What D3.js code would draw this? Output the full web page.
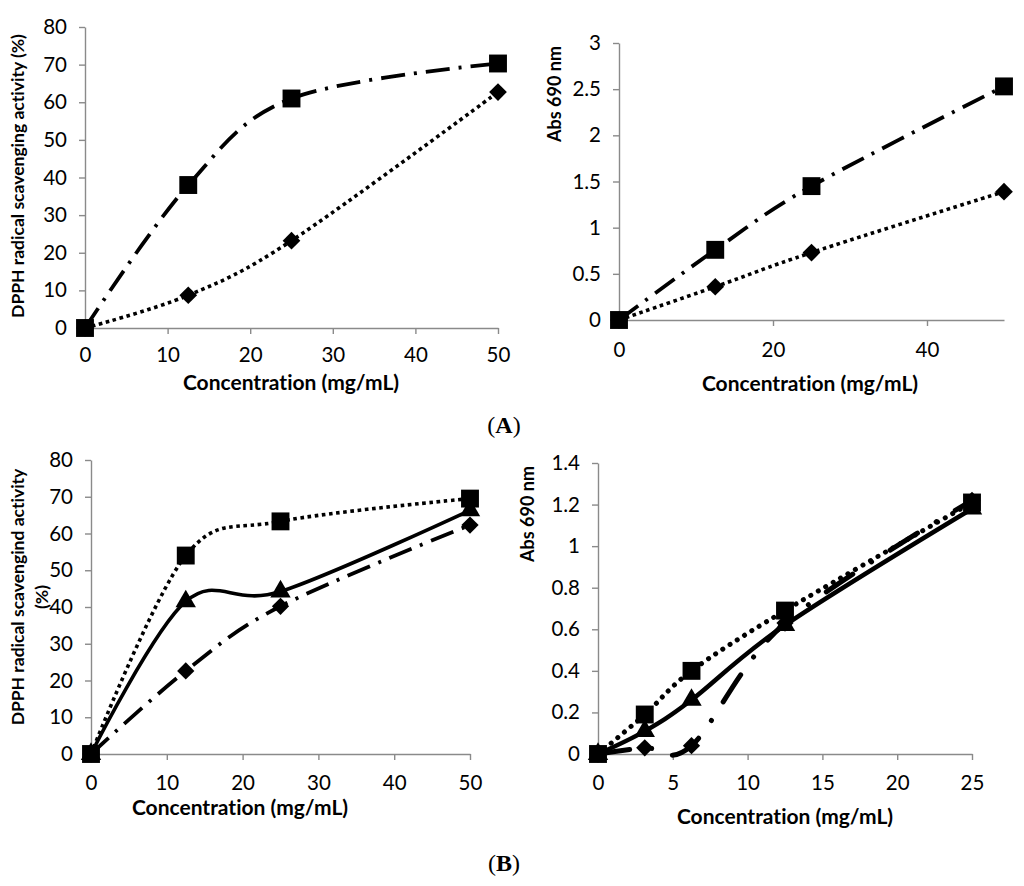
<!DOCTYPE html>
<html>
<head>
<meta charset="utf-8">
<script src="https://cdn.jsdelivr.net/npm/d3@7"></script>
<style>
  body { margin: 0; background: #fff; }
  text { font-variant-ligatures: none; font-feature-settings: "liga" 0, "dlig" 0; }
  .tick-label { font-family: Lato, "Open Sans", sans-serif; font-size: 20.5px; fill: #000; }
  .axis-title { font-family: Lato, "Open Sans", sans-serif; font-weight: bold; fill: #000; }
  .panel-label { font-family: "Liberation Serif", "Times New Roman", serif; font-size: 24px; fill: #000; }
</style>
</head>
<body>
<svg id="fig" width="1024" height="886"></svg>
<script>
// data

// (A) left: DPPH
const concA = [0, 12.5, 25, 50];
const dpphASquare = [0, 38, 61, 70.3];
const dpphADiamond = [0, 8.7, 23.2, 62.7];

// (A) right: Abs 690 nm
const absASquare = [0, 0.76, 1.45, 2.53];
const absADiamond = [0, 0.36, 0.73, 1.39];

// (B) left: DPPH
const concB1 = [0, 12.5, 25, 50];
const dpphBSquare = [0, 54, 63.3, 69.5];
const dpphBTriangle = [0, 41.5, 44.2, 66.3];
const dpphBDiamond = [0, 22.6, 40.2, 62.3];

// (B) right: Abs 690 nm
const concB2 = [0, 3.125, 6.25, 12.5, 25];
const absBSquare = [0, 0.19, 0.40, 0.69, 1.21];
const absBTriangle = [0, 0.11, 0.26, 0.62, 1.18];
const absBDiamond = [0, 0.03, 0.04, 0.63, 1.22];

// tick labels
const ticksDpph = [0, 10, 20, 30, 40, 50, 60, 70, 80];
const ticksConc50 = [0, 10, 20, 30, 40, 50];
const ticksConc50wide = [0, 20, 40];
const ticksAbs3 = [0, 0.5, 1, 1.5, 2, 2.5, 3];
const ticksConc25 = [0, 5, 10, 15, 20, 25];
const ticksAbs14 = [0, 0.2, 0.4, 0.6, 0.8, 1, 1.2, 1.4];

const xTitle = 'Concentration (mg/mL)';

// line styles
const styles = {
    dashdot: { width: 3.8, dash: '24,9,3,9', cap: 'butt' },
    dotted: { width: 3.6, dash: '3.6,3.6', cap: 'butt' },
    solid: { width: 3.6, dash: null, cap: 'butt' },
    bigDotted: { width: 5, dash: '0.1,8.5', cap: 'round' },
    bigDashdot: { width: 5, dash: '32,22,0.1,22', cap: 'round' },
    bigSolid: { width: 4.5, dash: null, cap: 'butt' }
};

const axisColor = '#8a8a8a';
const svg = d3.select('#fig');

function drawPanel(p) {
    let x = d3.scaleLinear().domain(p.xDomain).range([p.left, p.right]);
    let y = d3.scaleLinear().domain(p.yDomain).range([p.bottom, p.top]);
    let g = svg.append('g');

    // axes
    g.append('g')
        .attr('transform', `translate(0, ${p.bottom})`)
        .call(d3.axisBottom(x).tickValues(p.xTicks).tickSize(6).tickSizeOuter(0).tickFormat(d => d))
        .call(a => a.selectAll('line, path').attr('stroke', axisColor).attr('stroke-width', 1.4))
        .call(a => a.selectAll('text').attr('class', 'tick-label').attr('y', p.xLabelDy).attr('dy', '0.35em'));

    g.append('g')
        .attr('transform', `translate(${p.left}, 0)`)
        .call(d3.axisLeft(y).tickValues(p.yTicks).tickSize(6).tickSizeOuter(0).tickFormat(d => d))
        .call(a => a.selectAll('line, path').attr('stroke', axisColor).attr('stroke-width', 1.4))
        .call(a => a.selectAll('text').attr('class', 'tick-label').attr('x', -18));

    // axis titles
    g.append('text')
        .attr('class', 'axis-title')
        .attr('x', p.xTitleX)
        .attr('y', p.xTitleY)
        .attr('text-anchor', 'middle')
        .attr('dy', '0.35em')
        .style('font-size', '21px')
        .text(xTitle);

    p.yTitle.forEach((line, i) => {
        g.append('text')
            .attr('class', 'axis-title')
            .attr('transform', `translate(${p.yTitleX + i * p.yTitleGap}, ${p.yTitleY}) rotate(-90)`)
            .attr('text-anchor', 'middle')
            .attr('dy', '0.35em')
            .style('font-size', p.yTitleSize + 'px')
            .text(line);
    });

    let line = d3.line()
        .x(d => x(d[0]))
        .y(d => y(d[1]))
        .curve(d3.curveCardinal.tension(0));

    // lines first, markers on top
    p.series.forEach(s => {
        let pts = p.xs.map((v, i) => [v, s.values[i]]);
        let st = styles[s.style];
        g.append('path')
            .attr('d', line(pts))
            .attr('fill', 'none')
            .attr('stroke', '#000')
            .attr('stroke-width', st.width)
            .attr('stroke-linecap', st.cap)
            .attr('stroke-dasharray', st.dash);
    });

    p.series.forEach(s => {
        let pts = p.xs.map((v, i) => [v, s.values[i]]);
        let sym = s.marker === 'square' ? d3.symbolSquare
            : s.marker === 'triangle' ? d3.symbolTriangle : d3.symbolDiamond2;
        g.selectAll(null)
            .data(pts)
            .enter()
            .append('path')
            .attr('d', d3.symbol().type(sym).size(s.size))
            .attr('transform', d => `translate(${x(d[0])}, ${y(d[1])})`)
            .attr('fill', '#000');
    });
}

// (A) left
drawPanel({
    left: 85, right: 498, top: 27, bottom: 328,
    xDomain: [0, 50], yDomain: [0, 80],
    xTicks: ticksConc50, yTicks: ticksDpph,
    xLabelDy: 27,
    xTitleX: 291, xTitleY: 383,
    yTitle: ['DPPH radical scavenging activity (%)'], yTitleX: 18, yTitleY: 176, yTitleGap: 0, yTitleSize: 17.5,
    xs: concA,
    series: [
        { values: dpphADiamond, style: 'dotted', marker: 'diamond', size: 200 },
        { values: dpphASquare, style: 'dashdot', marker: 'square', size: 320 }
    ]
});

// (A) right
drawPanel({
    left: 619, right: 1004, top: 43, bottom: 320,
    xDomain: [0, 50], yDomain: [0, 3],
    xTicks: ticksConc50wide, yTicks: ticksAbs3,
    xLabelDy: 30,
    xTitleX: 810, xTitleY: 384,
    yTitle: ['Abs 690 nm'], yTitleX: 555, yTitleY: 94, yTitleGap: 0, yTitleSize: 18,
    xs: concA,
    series: [
        { values: absADiamond, style: 'dotted', marker: 'diamond', size: 200 },
        { values: absASquare, style: 'dashdot', marker: 'square', size: 320 }
    ]
});

// (B) left
drawPanel({
    left: 91, right: 470, top: 460, bottom: 754,
    xDomain: [0, 50], yDomain: [0, 80],
    xTicks: ticksConc50, yTicks: ticksDpph,
    xLabelDy: 29,
    xTitleX: 240, xTitleY: 808,
    yTitle: ['DPPH radical scavengind activity', '(%)'], yTitleX: 18, yTitleY: 597, yTitleGap: 24, yTitleSize: 17.5,
    xs: concB1,
    series: [
        { values: dpphBDiamond, style: 'dashdot', marker: 'diamond', size: 190 },
        { values: dpphBTriangle, style: 'solid', marker: 'triangle', size: 180 },
        { values: dpphBSquare, style: 'dotted', marker: 'square', size: 320 }
    ]
});

// (B) right
drawPanel({
    left: 598, right: 972, top: 463, bottom: 754,
    xDomain: [0, 25], yDomain: [0, 1.4],
    xTicks: ticksConc25, yTicks: ticksAbs14,
    xLabelDy: 29,
    xTitleX: 785, xTitleY: 817,
    yTitle: ['Abs 690 nm'], yTitleX: 528, yTitleY: 514, yTitleGap: 0, yTitleSize: 18,
    xs: concB2,
    series: [
        { values: absBTriangle, style: 'bigSolid', marker: 'triangle', size: 180 },
        { values: absBDiamond, style: 'bigDashdot', marker: 'diamond', size: 190 },
        { values: absBSquare, style: 'bigDotted', marker: 'square', size: 320 }
    ]
});

// panel labels
[['A', 433], ['B', 871]].forEach(([letter, yPos]) => {
    let t = svg.append('text')
        .attr('class', 'panel-label')
        .attr('x', 504)
        .attr('y', yPos)
        .attr('text-anchor', 'middle');
    t.append('tspan').text('(');
    t.append('tspan').style('font-weight', 'bold').text(letter);
    t.append('tspan').text(')');
});
</script>
</body>
</html>
